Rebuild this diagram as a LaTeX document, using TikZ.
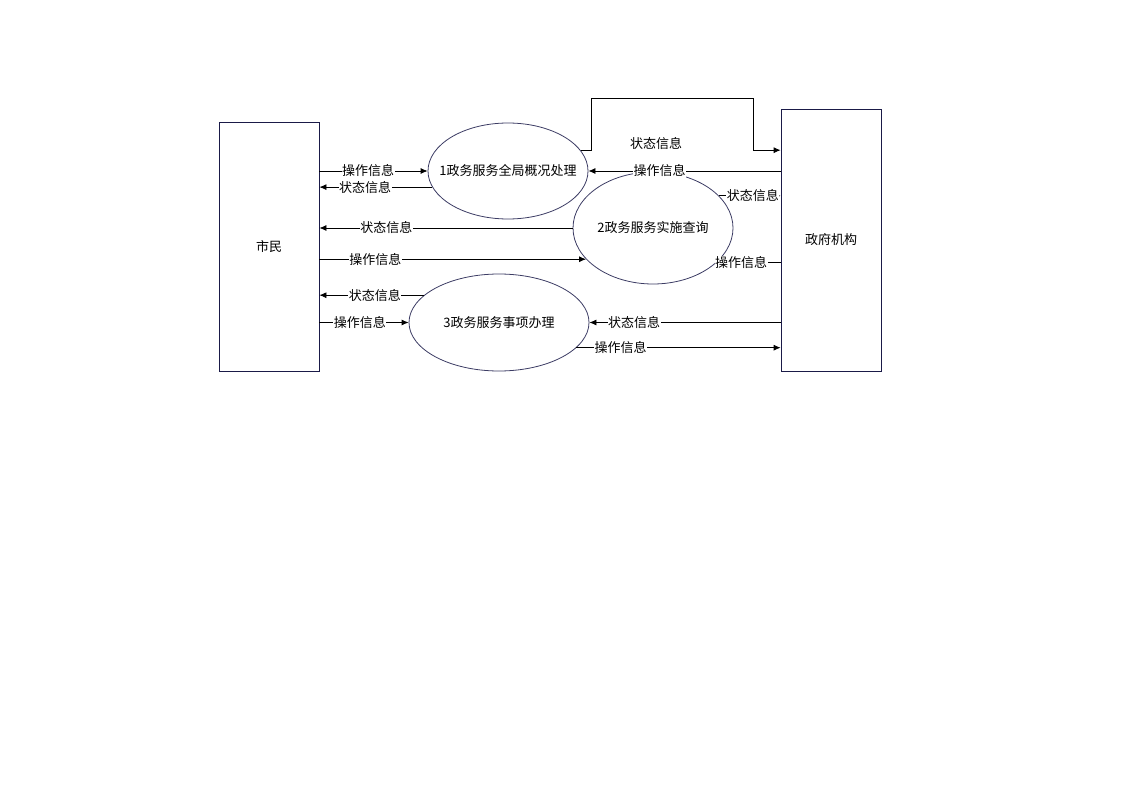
\documentclass[tikz,border=0pt]{standalone}
\usepackage{fontspec}
\setmainfont{Noto Sans CJK SC}
\usetikzlibrary{calc}
\usetikzlibrary{positioning}
\usetikzlibrary{shapes.geometric}
\usetikzlibrary{arrows.meta}

\definecolor{boxline}{RGB}{26,26,72}
\definecolor{ovalline}{RGB}{60,60,100}

\tikzset{
    entity/.style={draw=boxline, line width=0.8pt, rectangle, minimum width=100pt, inner sep=0pt},
    process/.style={draw=ovalline, line width=0.8pt, ellipse, inner sep=0pt, inner xsep=-18pt},
    flow/.style={line width=0.8pt, -{Latex[length=7pt,width=6pt]}},
    lbl/.style={fill=white, inner sep=0.5pt, font=\fontsize{13}{15}\selectfont}
}

\begin{document}
\begin{tikzpicture}[x=1pt, y=-1pt, font=\fontsize{13}{15}\selectfont]
    \useasboundingbox (0,0) rectangle (1123,794);

    % External entities
    \node [entity, minimum height=249pt] (shimin) at (269,246.5) {市民};
    \node [entity, minimum height=262pt] (gov) at (831,240) {政府机构};

    % Processes
    \node [process, minimum width=160pt, minimum height=96pt] (E1) at (508,171) {1政务服务全局概况处理};
    \node [process, minimum width=160pt, minimum height=112pt] (E2) at (653,228) {2政务服务实施查询};
    \node [process, minimum width=180pt, minimum height=97pt] (E3) at (499,322.5) {3政务服务事项办理};

    % Detour above process 1
    \coordinate (t1) at (591,98);
    \coordinate (t2) at (753,98);

    % ---- Process 1 ----
    \draw [flow] (shimin.east |- E1.west) -- (E1.west) node [lbl, pos=0.45] {操作信息};
    \draw [flow] (E1.192) -- (E1.192 -| shimin.east) node [lbl, pos=0.595] {状态信息};
    \draw [flow] (E1.east -| gov.west) -- (E1.east) node [lbl, pos=0.63] {操作信息};
    \draw [flow] (E1.16) -- (E1.16 -| t1) -- (t1) -- (t2) -- (t2 |- E1.16) -- (E1.16 -| gov.west);
    \node [lbl] (s1) at (656,144) {状态信息};

    % ---- Process 2 ----
    \draw [flow] (E2.26) -- (E2.26 -| gov.west) node [lbl, pos=0.55] {状态信息};
    \draw [flow] (E2.west) -- (E2.west -| shimin.east) node [lbl, pos=0.736] {状态信息};
    \draw [flow] (E2.205 -| shimin.east) -- (E2.205) node [lbl, pos=0.21] {操作信息};
    \draw [flow] (E2.332 -| gov.west) -- (E2.332) node [lbl, pos=0.62] {操作信息};

    % ---- Process 3 ----
    \draw [flow] (E3.160) -- (E3.160 -| shimin.east) node [lbl, pos=0.47] {状态信息};
    \draw [flow] (shimin.east |- E3.west) -- (E3.west) node [lbl, pos=0.455] {操作信息};
    \draw [flow] (E3.east -| gov.west) -- (E3.east) node [lbl, pos=0.766] {状态信息};
    \draw [flow] (E3.342) -- (E3.342 -| gov.west) node [lbl, pos=0.216] {操作信息};

\end{tikzpicture}
\end{document}
